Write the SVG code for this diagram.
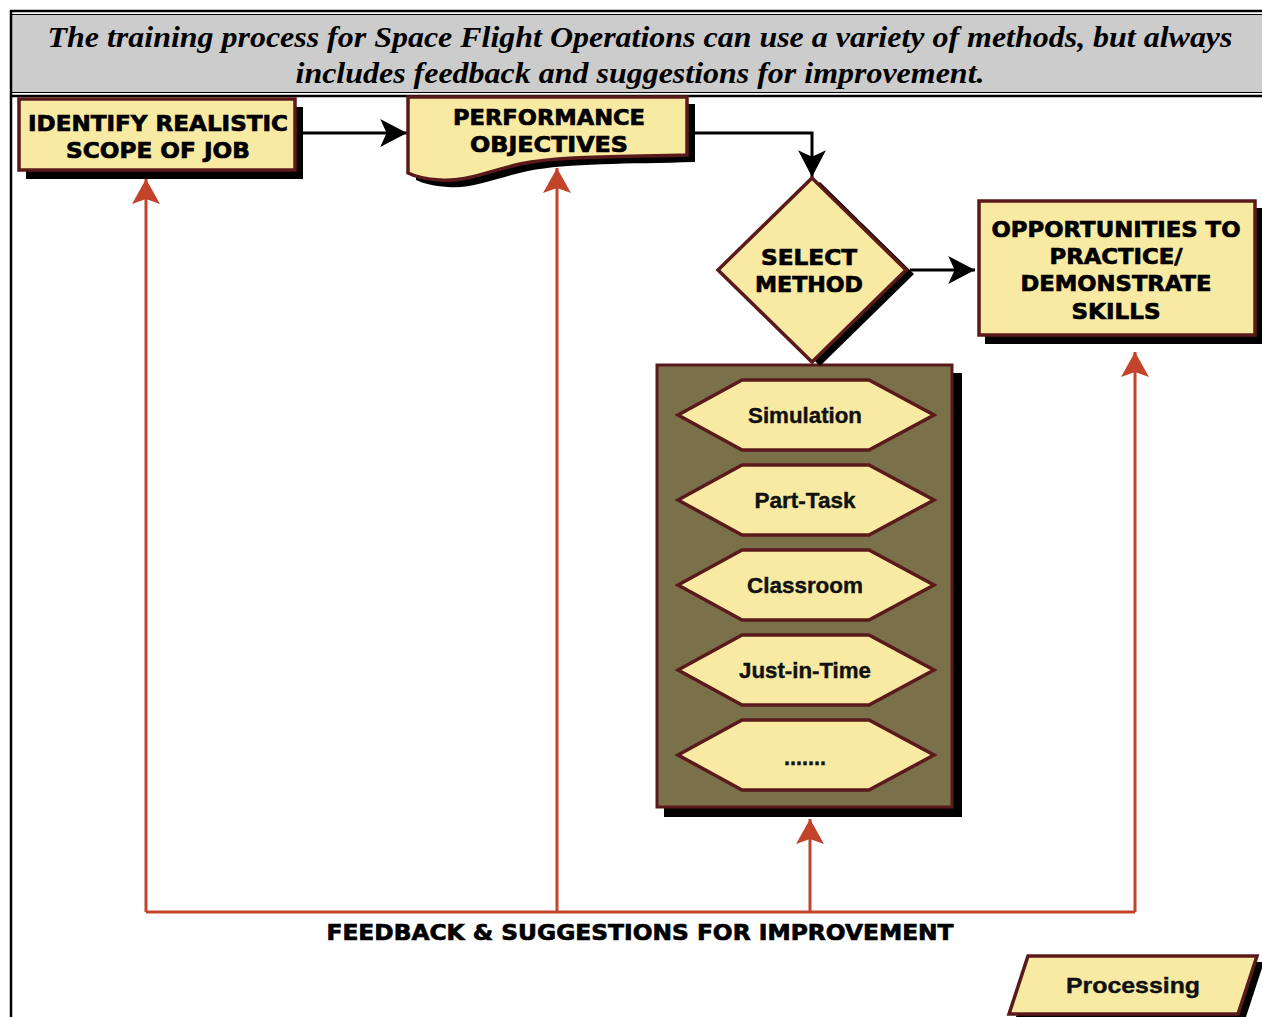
<svg xmlns="http://www.w3.org/2000/svg" width="1262" height="1017" viewBox="0 0 1262 1017">
<defs>
<style>
.box{fill:#f8eaa3;stroke:#5a1a1c;stroke-width:3.5;stroke-linejoin:miter}
.shadow{fill:#000}
.cap{font-family:"DejaVu Sans","Liberation Sans",sans-serif;font-weight:bold;font-size:22px;fill:#000;stroke:#000;stroke-width:0.7;text-anchor:middle}
.hex{font-family:"Liberation Sans",Arial,sans-serif;font-weight:bold;font-size:22px;fill:#111;stroke:#111;stroke-width:0.4;text-anchor:middle}
.title{font-family:"Liberation Serif","Times New Roman",serif;font-weight:bold;font-style:italic;font-size:30px;fill:#000;text-anchor:middle}
.blk{fill:none;stroke:#000;stroke-width:3}
.red{fill:none;stroke:#c1442b;stroke-width:3}
</style>
<marker id="ab" markerUnits="userSpaceOnUse" markerWidth="30" markerHeight="30" viewBox="-26 -14 28 28" refX="0" refY="0" orient="auto">
<path d="M0,0 L-25,-13 L-19,0 L-25,13 Z" fill="#000"/>
</marker>
<marker id="ar" markerUnits="userSpaceOnUse" markerWidth="30" markerHeight="30" viewBox="-26 -15 28 30" refX="0" refY="0" orient="auto">
<path d="M0,0 L-25,-14 L-20,0 L-25,14 Z" fill="#c1442b"/>
</marker>
</defs>
<rect width="1262" height="1017" fill="#fff"/>

<!-- frame and title -->
<g id="title">
<rect x="11" y="14" width="1251" height="79" fill="#cccccc"/>
<line x1="10" y1="11" x2="1262" y2="11" stroke="#000" stroke-width="2.5"/>
<line x1="10" y1="14.5" x2="1262" y2="14.5" stroke="#000" stroke-width="1.2"/>
<line x1="10" y1="92.5" x2="1262" y2="92.5" stroke="#000" stroke-width="1.2"/>
<line x1="10" y1="96" x2="1262" y2="96" stroke="#000" stroke-width="2.5"/>
<line x1="11" y1="10" x2="11" y2="1017" stroke="#000" stroke-width="2.5"/>
<text class="title" x="640" y="47" textLength="1185" lengthAdjust="spacingAndGlyphs">The training process for Space Flight Operations can use a variety of methods, but always</text>
<text class="title" x="640" y="83" textLength="689" lengthAdjust="spacingAndGlyphs">includes feedback and suggestions for improvement.</text>
</g>

<!-- connectors -->
<g id="connectors">
<path class="blk" d="M296,133 H407" marker-end="url(#ab)"/>
<path class="blk" d="M690,133 H812 V177" marker-end="url(#ab)"/>
<path class="blk" d="M910,270 H975" marker-end="url(#ab)"/>
<path class="red" d="M146,912 H1135"/>
<path class="red" d="M146,912 V179" marker-end="url(#ar)"/>
<path class="red" d="M557,912 V168" marker-end="url(#ar)"/>
<path class="red" d="M810,912 V819" marker-end="url(#ar)"/>
<path class="red" d="M1135,912 V352" marker-end="url(#ar)"/>
</g>

<g id="identify">
<rect class="shadow" x="26" y="107" width="277" height="72"/>
<rect class="box" x="19" y="99" width="276" height="71"/>
<text class="cap" x="158" y="131" textLength="260" lengthAdjust="spacingAndGlyphs">IDENTIFY REALISTIC</text>
<text class="cap" x="158" y="158" textLength="184" lengthAdjust="spacingAndGlyphs">SCOPE OF JOB</text>
</g>

<g id="objectives">
<path class="shadow" transform="translate(8,7)" d="M408,97 H687 V155 C620,157 560,156 520,164 C485,172 465,182 440,180 C425,179 414,176 408,173 Z"/>
<path class="box" d="M408,97 H687 V155 C620,157 560,156 520,164 C485,172 465,182 440,180 C425,179 414,176 408,173 Z"/>
<text class="cap" x="549" y="125" textLength="192" lengthAdjust="spacingAndGlyphs">PERFORMANCE</text>
<text class="cap" x="549" y="152" textLength="158" lengthAdjust="spacingAndGlyphs">OBJECTIVES</text>
</g>

<g id="methods">
<rect class="shadow" x="664" y="373" width="298" height="444"/>
<rect x="657" y="365" width="295" height="442" fill="#7a714b" stroke="#5a1a1c" stroke-width="3"/>
<g id="m-simulation">
<path class="box" d="M678,415 L742,380 H869 L934,415 L869,450 H742 Z"/>
<text class="hex" x="805" y="423" textLength="114" lengthAdjust="spacingAndGlyphs">Simulation</text>
</g>
<g id="m-parttask">
<path class="box" d="M678,500 L742,465 H869 L934,500 L869,535 H742 Z"/>
<text class="hex" x="805" y="508" textLength="101" lengthAdjust="spacingAndGlyphs">Part-Task</text>
</g>
<g id="m-classroom">
<path class="box" d="M678,585 L742,550 H869 L934,585 L869,620 H742 Z"/>
<text class="hex" x="805" y="593" textLength="116" lengthAdjust="spacingAndGlyphs">Classroom</text>
</g>
<g id="m-jit">
<path class="box" d="M678,670 L742,635 H869 L934,670 L869,705 H742 Z"/>
<text class="hex" x="805" y="678" textLength="132" lengthAdjust="spacingAndGlyphs">Just-in-Time</text>
</g>
<g id="m-more">
<path class="box" d="M678,755 L742,720 H869 L934,755 L869,790 H742 Z"/>
<text class="hex" x="805" y="765" textLength="42" lengthAdjust="spacingAndGlyphs">.......</text>
</g>
</g>

<g id="select">
<path class="shadow" transform="translate(8,4)" d="M812,178 L906,270 L812,362 L718,270 Z"/>
<path class="box" d="M812,178 L906,270 L812,362 L718,270 Z"/>
<text class="cap" x="809" y="265" textLength="96" lengthAdjust="spacingAndGlyphs">SELECT</text>
<text class="cap" x="809" y="292" textLength="108" lengthAdjust="spacingAndGlyphs">METHOD</text>
</g>

<g id="opportunities">
<rect class="shadow" x="985" y="208" width="277" height="136"/>
<rect class="box" x="979" y="201" width="276" height="134"/>
<text class="cap" x="1116" y="237" textLength="249" lengthAdjust="spacingAndGlyphs">OPPORTUNITIES TO</text>
<text class="cap" x="1116" y="264" textLength="133" lengthAdjust="spacingAndGlyphs">PRACTICE/</text>
<text class="cap" x="1116" y="291" textLength="191" lengthAdjust="spacingAndGlyphs">DEMONSTRATE</text>
<text class="cap" x="1116" y="319" textLength="89" lengthAdjust="spacingAndGlyphs">SKILLS</text>
</g>

<g id="feedback-label">
<text class="cap" x="640" y="940" font-size="20" textLength="627" lengthAdjust="spacingAndGlyphs">FEEDBACK &amp; SUGGESTIONS FOR IMPROVEMENT</text>
</g>

<g id="processing">
<path class="shadow" d="M1034,962 L1264,962 L1245,1020 L1015,1020 Z"/>
<path class="box" d="M1028,956 L1257,956 L1238,1014 L1009,1014 Z"/>
<text class="hex" x="1133" y="993" textLength="134" lengthAdjust="spacingAndGlyphs">Processing</text>
</g>
</svg>
